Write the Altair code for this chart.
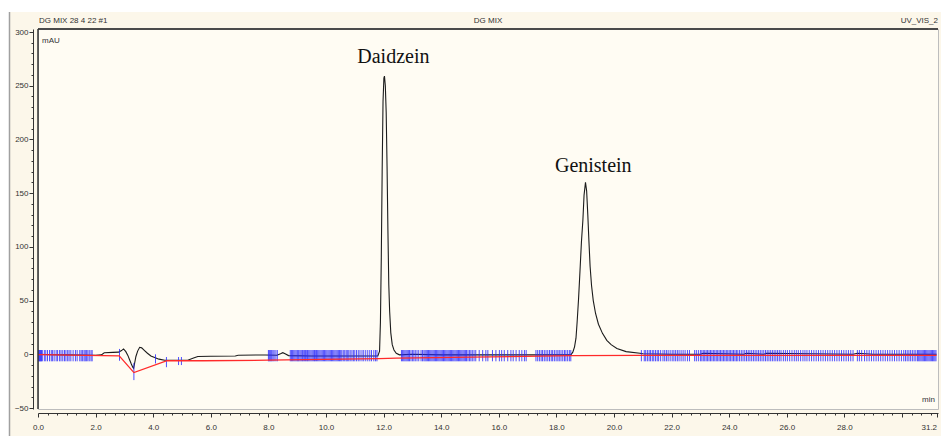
import altair as alt
import pandas as pd

# ---------------- data ----------------
# detector trace (black)
trace_t = [0.00, 0.50, 1.00, 1.50, 2.00, 2.20, 2.30, 2.60, 2.80, 2.90, 2.97, 3.05, 3.12, 3.18, 3.24,
           3.29, 3.32, 3.35, 3.40, 3.46, 3.53, 3.60, 3.70, 3.80, 3.92, 4.05, 4.20, 4.40, 4.80,
           5.20, 5.40, 5.55, 6.00, 6.85, 6.95, 7.90, 8.30, 8.42, 8.50, 8.58, 8.70, 9.50, 10.50,
           11.50, 11.80, 11.86, 11.89, 11.92, 11.95, 11.98, 12.01, 12.03, 12.06, 12.09, 12.12,
           12.15, 12.18, 12.21, 12.25, 12.30, 12.36, 12.44, 12.55, 13.00, 14.00, 15.00, 16.00,
           17.00, 18.00, 18.50, 18.57, 18.63, 18.68, 18.72, 18.77, 18.82, 18.87, 18.92, 18.96,
           19.01, 19.05, 19.09, 19.13, 19.17, 19.22, 19.28, 19.36, 19.46, 19.60, 19.75, 19.90,
           20.10, 20.42, 20.90, 21.00, 22.00, 23.00, 23.10, 24.50, 24.60, 25.20, 25.30, 28.30,
           28.45, 29.00, 31.20]
trace_v = [0.0, -0.4, -0.5, -0.6, -0.8, -0.5, 1.5, 1.8, 2.0, 3.5, 5.0, 2.5, -1.0, -5.0, -9.0,
           -12.0, -13.0, -9.0, -2.0, 3.0, 6.5, 6.0, 3.5, 1.0, -1.5, -3.0, -4.5, -5.5, -5.5,
           -5.5, -3.5, -2.0, -1.8, -1.5, -0.8, -0.6, -0.8, 0.5, 1.5, 0.5, -1.2, -1.5, -1.5,
           -1.5, -1.5, 3.0, 30.0, 90.0, 170.0, 235.0, 257.0, 259.0, 250.0, 225.0, 175.0,
           115.0, 65.0, 40.0, 20.0, 9.0, 4.0, 1.0, -0.5, 0.0, -0.5, -0.5, -0.5,
           -0.5, -0.5, -0.5, 2.0, 7.0, 15.0, 30.0, 52.0, 78.0, 105.0, 125.0, 148.0,
           160.0, 152.0, 130.0, 105.0, 82.0, 64.0, 50.0, 38.0, 28.0, 19.5, 13.0, 9.0,
           5.5, 2.5, 1.0, 0.5, 0.0, 0.0, 1.0, 0.0, 1.0, 0.0, 1.0, 0.0,
           1.0, 0.0, 0.0]

# integration baseline (red)
base_t = [0.00, 2.82, 3.33, 4.48, 5.70, 8.00, 11.85, 12.45, 18.55, 20.90, 31.20]
base_v = [-0.3, -1.5, -17.0, -6.0, -6.0, -5.5, -4.0, -3.5, -1.3, -1.0, -1.0]

# detection tick marks (blue)
ticks_a = [0.02, 0.04, 0.06, 0.08, 0.10, 0.12, 0.15, 0.22, 0.27, 0.33, 0.40, 0.46, 0.50, 0.56,
           0.63, 0.68, 0.75, 0.80, 0.86, 0.92, 0.97, 1.03, 1.08, 1.14, 1.22, 1.30, 1.36, 1.45,
           1.50, 1.55, 1.60, 1.64, 1.68, 1.73, 1.78, 1.84, 1.88]
ticks_b = [8.00, 8.03, 8.06, 8.09, 8.12, 8.16, 8.20, 8.26, 8.31, 8.76, 8.80, 8.84, 8.88, 8.92,
           8.96, 9.00, 9.03, 9.06, 9.10, 9.14, 9.18, 9.21, 9.25, 9.29, 9.33, 9.36, 9.40, 9.44,
           9.48, 9.52, 9.56, 9.60, 9.63, 9.67, 9.71, 9.75, 9.79, 9.83, 9.87, 9.91, 9.95, 9.99,
           10.03, 10.07, 10.11, 10.15, 10.19, 10.23, 10.27, 10.31, 10.35, 10.39, 10.43, 10.47,
           10.51, 10.55, 10.60, 10.65, 10.70, 10.74, 10.79, 10.84, 10.90, 10.95, 11.00, 11.06,
           11.12, 11.18, 11.25, 11.31, 11.38, 11.45, 11.52, 11.58, 11.66, 11.72, 11.77]
ticks_c = [12.62, 12.66, 12.70, 12.74, 12.78, 12.82, 12.86, 12.90, 12.95, 13.00, 13.05, 13.10,
           13.16, 13.22, 13.30, 13.35, 13.40, 13.44, 13.48, 13.52, 13.56, 13.60, 13.64, 13.68,
           13.72, 13.76, 13.80, 13.84, 13.88, 13.92, 13.96, 14.00, 14.04, 14.08, 14.12, 14.16,
           14.20, 14.24, 14.28, 14.32, 14.36, 14.40, 14.44, 14.48, 14.52, 14.56, 14.60, 14.64,
           14.68, 14.72, 14.76, 14.80, 14.84, 14.88, 14.93, 14.98, 15.03, 15.08, 15.14, 15.20,
           15.32, 15.44, 15.55, 15.62, 15.78, 15.90, 16.02, 16.10, 16.19, 16.31, 16.42, 16.50,
           16.60, 16.71, 16.80, 16.89, 16.95, 17.29, 17.35, 17.41, 17.47, 17.52, 17.58, 17.64,
           17.70, 17.76, 17.82, 17.87, 17.93, 17.99, 18.05, 18.10, 18.16, 18.22, 18.28, 18.33,
           18.39, 18.45, 18.50]
ticks_d = [20.95, 21.05, 21.10, 21.16, 21.22, 21.27, 21.33, 21.38, 21.44, 21.50, 21.55, 21.62,
           21.70, 21.76, 21.82, 21.88, 21.95, 22.02, 22.08, 22.14, 22.20, 22.26, 22.33, 22.40,
           22.47, 22.55, 22.62, 22.80, 22.86, 22.93, 23.00, 23.05, 23.10, 23.15, 23.20, 23.25,
           23.30, 23.35, 23.40, 23.45, 23.50, 23.55, 23.60, 23.65, 23.70, 23.75, 23.80, 23.85,
           23.90, 23.95, 24.00, 24.05, 24.10, 24.15, 24.20, 24.25, 24.30, 24.36, 24.42, 24.48,
           24.54, 24.60, 24.66, 24.72, 24.78, 24.84, 24.90, 24.96, 25.02, 25.08, 25.14, 25.20,
           25.26, 25.32, 25.38, 25.44, 25.50, 25.56, 25.62, 25.68, 25.74, 25.80, 25.88, 25.95,
           26.02, 26.10, 26.18, 26.26, 26.33, 26.40, 26.48, 26.56, 26.63, 26.70, 26.78, 26.86,
           26.94, 27.02, 27.10, 27.18, 27.26, 27.34, 27.42, 27.50, 27.58, 27.66, 27.74, 27.82,
           27.90, 27.98, 28.06, 28.14, 28.22, 28.30, 28.45, 28.52, 28.60, 28.70, 28.78, 28.86,
           28.94, 29.02, 29.10, 29.18, 29.26, 29.34, 29.42, 29.50, 29.58, 29.66, 29.74, 29.82,
           29.90, 29.98, 30.06, 30.12, 30.18, 30.24, 30.30, 30.36, 30.42, 30.48, 30.54, 30.58,
           30.62, 30.66, 30.70, 30.74, 30.78, 30.82, 30.86, 30.90, 30.94, 30.98, 31.02, 31.06,
           31.10, 31.14, 31.18]
tick_hi = 4.0
tick_lo = -6.5
# individual ticks in the solvent-front region
special_t = [2.83, 3.33, 4.08, 4.46, 4.88, 4.98]
special_hi = [5.0, -8.0, 0.0, -2.5, -2.5, -2.5]
special_lo = [-6.0, -24.0, -8.5, -12.0, -10.0, -10.0]

# peak labels
peak_names = ["Daidzein", "Genistein"]
peak_label_t = [12.34, 19.28]
peak_label_v = [271.4, 170.0]

# axes
x_major = [0, 2, 4, 6, 8, 10, 12, 14, 16, 18, 20, 22, 24, 26, 28]
x_end = 31.2
y_major = [-50, 0, 50, 100, 150, 200, 250, 300]
X_DOMAIN = [0, 31.25]
Y_DOMAIN = [-50.9, 302.8]

# ---------------- frames ----------------
trace_df = pd.DataFrame({"t": trace_t, "v": trace_v})
base_df = pd.DataFrame({"t": base_t, "v": base_v})
all_ticks = ticks_a + ticks_b + ticks_c + ticks_d
ticks_df = pd.DataFrame({"t": all_ticks, "hi": [tick_hi] * len(all_ticks),
                         "lo": [tick_lo] * len(all_ticks)})
special_df = pd.DataFrame({"t": special_t, "hi": special_hi, "lo": special_lo})
labels_df = pd.DataFrame({"name": peak_names, "t": peak_label_t, "v": peak_label_v})
one = pd.DataFrame({"k": [0]})

x_tick_values = [round(i / 3, 4) for i in range(0, 94)] + [x_end]
y_tick_values = list(range(-50, 301, 10))

is_major_x = "abs(datum.value - 2*round(datum.value/2)) < 0.01 || datum.value > 31.1"
x_axis = alt.Axis(
    values=x_tick_values,
    labelExpr=("abs(datum.value - 2*round(datum.value/2)) < 0.01 && datum.value < 29 ? "
               "format(datum.value, '.1f') : (datum.value > 31.1 ? '31.2' : '')"),
    tickSize={"condition": {"test": is_major_x, "value": 4}, "value": 2},
    labelAlign={"condition": {"test": "datum.value > 31.1", "value": "right"}, "value": "center"},
    offset=4, labelPadding=6, labelOverlap=False, labelFlush=False, labelBound=False,
    title=None, grid=False,
)
y_axis = alt.Axis(
    values=y_tick_values,
    labelExpr="datum.value % 50 === 0 ? datum.label : ''",
    tickSize={"condition": {"test": "datum.value % 50 === 0", "value": 4}, "value": 2},
    offset=5, labelPadding=1, labelOverlap=False, labelFlush=False, labelBound=False,
    title=None, grid=False,
)


def X(field="t"):
    return alt.X(f"{field}:Q", scale=alt.Scale(domain=X_DOMAIN, nice=False, zero=False), axis=x_axis)


def Y(field="v"):
    return alt.Y(f"{field}:Q", scale=alt.Scale(domain=Y_DOMAIN, nice=False, zero=False), axis=y_axis)


trace = alt.Chart(trace_df).mark_line(color="#1c1c1c", strokeWidth=1.1).encode(
    x=X(), y=Y(), order="t:Q")
baseline = alt.Chart(base_df).mark_line(color="#ff2a2a", strokeWidth=1.3).encode(
    x=X(), y=Y(), order="t:Q")
ticks = alt.Chart(ticks_df).mark_rule(color="#2626ff", strokeWidth=0.9, opacity=0.9).encode(
    x=X(), y=Y("hi"), y2="lo:Q")
special = alt.Chart(special_df).mark_rule(color="#2626ff", strokeWidth=0.9, opacity=0.9).encode(
    x=X(), y=Y("hi"), y2="lo:Q")
peak_text = alt.Chart(labels_df).mark_text(
    font="Liberation Serif", fontSize=20, color="#111111", align="center", baseline="alphabetic"
).encode(x=X(), y=Y(), text="name:N")

# frame and header decorations
top_rule = alt.Chart(one).mark_rule(color="#4a4a4a", strokeWidth=2).encode(
    x=alt.value(0), x2=alt.value(900), y=alt.value(0))
left_rule = alt.Chart(one).mark_rule(color="#333333", strokeWidth=1.5).encode(
    x=alt.value(0), y=alt.value(0), y2=alt.value(380))
white_left = alt.Chart(one).mark_rect(color="white").encode(
    x=alt.value(-38), x2=alt.value(-29), y=alt.value(-29), y2=alt.value(407))
white_top = alt.Chart(one).mark_rect(color="white").encode(
    x=alt.value(-38), x2=alt.value(903), y=alt.value(-29), y2=alt.value(-17))
outer_line = alt.Chart(one).mark_rule(color="#a0a0a0", strokeWidth=1.5).encode(
    x=alt.value(-28.5), y=alt.value(-17), y2=alt.value(407))

hdr = dict(font="Liberation Sans", fontSize=8, color="#333333", baseline="alphabetic")
t_left = alt.Chart(one).mark_text(align="left", text="DG MIX  28 4 22 #1", **hdr).encode(
    x=alt.value(1), y=alt.value(-6))
t_mid = alt.Chart(one).mark_text(align="center", text="DG MIX", **hdr).encode(
    x=alt.value(450), y=alt.value(-6))
t_right = alt.Chart(one).mark_text(align="right", text="UV_VIS_2", **hdr).encode(
    x=alt.value(900), y=alt.value(-6))
t_mau = alt.Chart(one).mark_text(align="left", text="mAU", **hdr).encode(
    x=alt.value(4), y=alt.value(14))
t_min = alt.Chart(one).mark_text(align="right", text="min", **hdr).encode(
    x=alt.value(897), y=alt.value(373))

chart = alt.layer(
    white_left, white_top, outer_line,
    trace, ticks, special, baseline, peak_text,
    top_rule, left_rule, t_left, t_mid, t_right, t_mau, t_min,
).properties(
    width=900, height=380,
    autosize=alt.AutoSizeParams(type="none"),
    padding={"left": 38, "top": 29, "right": 3, "bottom": 27},
    background="#fcf7ea",
).configure_view(
    fill="#fffcf3", stroke="#bdbdbd", strokeWidth=1,
).configure_axis(
    labelFont="Liberation Sans", labelFontSize=8, labelColor="#333333",
    domainColor="#333333", tickColor="#333333", domainWidth=1, tickWidth=1,
)

chart.save("out.html", embed_options={"renderer": "svg", "actions": False})
